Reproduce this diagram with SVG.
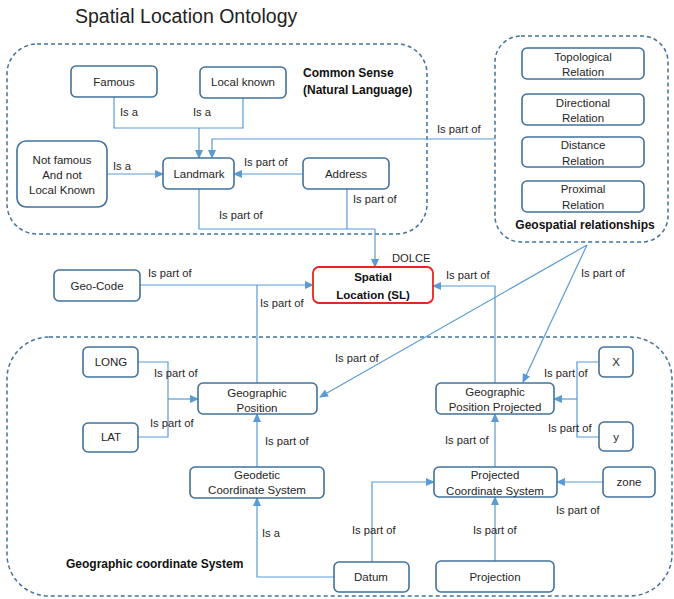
<svg xmlns="http://www.w3.org/2000/svg" width="674" height="599" viewBox="0 0 674 599">
<style>
.bg{fill:#ffffff}
.grp{fill:none;stroke:#41719C;stroke-width:1.5;stroke-dasharray:4 3}
.box{fill:#ffffff;stroke:#41719C;stroke-width:1.6}
.red{fill:#ffffff;stroke:#EE2222;stroke-width:1.8}
.t{font-family:"Liberation Sans",Arial,sans-serif;font-size:11.5px;fill:#262626;text-anchor:middle}
.l{font-family:"Liberation Sans",Arial,sans-serif;font-size:11.2px;fill:#262626}
.b{font-family:"Liberation Sans",Arial,sans-serif;font-size:12px;font-weight:bold;fill:#111}
.title{font-family:"Liberation Sans",Arial,sans-serif;font-size:19.5px;fill:#222}
#connectors path{fill:none;stroke:#5B9BD5;stroke-width:1.2}
.arr{marker-end:url(#ah)}
</style>
<defs>
<marker id="ah" markerUnits="userSpaceOnUse" markerWidth="9" markerHeight="8" refX="8" refY="4" orient="auto">
<path d="M0,0 L9,4 L0,8 Z" fill="#5B9BD5"/>
</marker>
</defs>
<rect class="bg" x="0" y="0" width="674" height="599"/>
<text class="title" x="75" y="23">Spatial Location Ontology</text>

<g id="group-common-sense">
<rect class="grp" x="7" y="44" width="420" height="190" rx="30"/>
<text class="b" x="303" y="77">Common Sense</text>
<text class="b" x="303" y="94">(Natural Language)</text>
</g>
<g id="group-geospatial">
<rect class="grp" x="495" y="36" width="173" height="206" rx="26"/>
<text class="b" x="585" y="229" text-anchor="middle">Geospatial relationships</text>
</g>
<g id="group-geographic">
<rect class="grp" x="7" y="337" width="665" height="259" rx="42"/>
<text class="b" x="66" y="568">Geographic coordinate System</text>
</g>

<g id="connectors">
<path d="M114,97 V128 H243 V98"/>
<path class="arr" d="M199,128 V158"/>
<path class="arr" d="M495,139 H212 V158"/>
<path class="arr" d="M107,174 H163"/>
<path class="arr" d="M303,174 H234"/>
<path d="M199,189 V229 H375"/>
<path d="M347,189 V229"/>
<path class="arr" d="M375,229 V267"/>
<path class="arr" d="M140,285 H313"/>
<path d="M257,383 V285"/>
<path class="arr" d="M495,383 V286 H433"/>
<path class="arr" d="M587,245 L320,397"/>
<path class="arr" d="M587,245 L523,382"/>
<path d="M138,362 H168 V437 H138"/>
<path class="arr" d="M168,399 H198"/>
<path d="M599,362 H577 V437 H599"/>
<path class="arr" d="M577,399 H554"/>
<path class="arr" d="M257,467 V414"/>
<path class="arr" d="M495,467 V414"/>
<path class="arr" d="M334,577 H257 V498"/>
<path class="arr" d="M372,562 V482 H434"/>
<path class="arr" d="M603,482 H557"/>
<path class="arr" d="M495,561 V497"/>
</g>

<g id="labels">
<text class="l" x="120" y="116">Is a</text>
<text class="l" x="193" y="116">Is a</text>
<text class="l" x="437" y="133">Is part of</text>
<text class="l" x="113" y="170">Is a</text>
<text class="l" x="244" y="166">Is part of</text>
<text class="l" x="219" y="219">Is part of</text>
<text class="l" x="353" y="203">Is part of</text>
<text class="l" x="148" y="277">Is part of</text>
<text class="l" x="260" y="307">Is part of</text>
<text class="l" x="446" y="279">Is part of</text>
<text class="l" x="581" y="277">Is part of</text>
<text class="l" x="335" y="362">Is part of</text>
<text class="l" x="154" y="377">Is part of</text>
<text class="l" x="150" y="427">Is part of</text>
<text class="l" x="265" y="445">Is part of</text>
<text class="l" x="262" y="537">Is a</text>
<text class="l" x="352" y="534">Is part of</text>
<text class="l" x="544" y="377">Is part of</text>
<text class="l" x="548" y="432">Is part of</text>
<text class="l" x="445" y="444">Is part of</text>
<text class="l" x="556" y="514">Is part of</text>
<text class="l" x="473" y="534">Is part of</text>
<text class="l" x="392" y="262">DOLCE</text>
</g>

<g id="famous"><rect class="box" x="71" y="66" width="86" height="31" rx="5"/><text class="t" x="114" y="86">Famous</text></g>
<g id="local-known"><rect class="box" x="200" y="67" width="86" height="31" rx="5"/><text class="t" x="243" y="86">Local known</text></g>
<g id="not-famous"><rect class="box" x="17" y="141" width="90" height="66" rx="9"/><text class="t" x="62" y="164">Not famous</text><text class="t" x="62" y="179">And not</text><text class="t" x="62" y="194">Local Known</text></g>
<g id="landmark"><rect class="box" x="163" y="158" width="71" height="31" rx="5"/><text class="t" x="199" y="178">Landmark</text></g>
<g id="address"><rect class="box" x="303" y="158" width="86" height="31" rx="5"/><text class="t" x="346" y="178">Address</text></g>

<g id="topological"><rect class="box" x="522" y="48" width="122" height="31" rx="5"/><text class="t" x="583" y="61">Topological</text><text class="t" x="583" y="76">Relation</text></g>
<g id="directional"><rect class="box" x="522" y="94" width="122" height="31" rx="5"/><text class="t" x="583" y="107">Directional</text><text class="t" x="583" y="122">Relation</text></g>
<g id="distance"><rect class="box" x="522" y="137" width="122" height="30" rx="5"/><text class="t" x="583" y="149">Distance</text><text class="t" x="583" y="165">Relation</text></g>
<g id="proximal"><rect class="box" x="522" y="181" width="122" height="31" rx="5"/><text class="t" x="583" y="193">Proximal</text><text class="t" x="583" y="209">Relation</text></g>

<g id="spatial-location"><rect class="red" x="313" y="267" width="120" height="36" rx="6"/><text class="b" x="373" y="281" text-anchor="middle" style="font-size:11.5px">Spatial</text><text class="b" x="373" y="299" text-anchor="middle" style="font-size:11.5px">Location (SL)</text></g>
<g id="geo-code"><rect class="box" x="54" y="270" width="86" height="31" rx="5"/><text class="t" x="97" y="290">Geo-Code</text></g>

<g id="long"><rect class="box" x="83" y="347" width="55" height="30" rx="5"/><text class="t" x="111" y="366">LONG</text></g>
<g id="lat"><rect class="box" x="83" y="423" width="55" height="29" rx="5"/><text class="t" x="111" y="441">LAT</text></g>
<g id="geographic-position"><rect class="box" x="198" y="383" width="119" height="31" rx="5"/><text class="t" x="257" y="397">Geographic</text><text class="t" x="257" y="412">Position</text></g>
<g id="geodetic"><rect class="box" x="190" y="467" width="134" height="31" rx="5"/><text class="t" x="257" y="479">Geodetic</text><text class="t" x="257" y="494">Coordinate System</text></g>
<g id="datum"><rect class="box" x="334" y="562" width="75" height="30" rx="5"/><text class="t" x="371" y="581">Datum</text></g>
<g id="geographic-position-projected"><rect class="box" x="436" y="383" width="118" height="31" rx="5"/><text class="t" x="495" y="396">Geographic</text><text class="t" x="495" y="411">Position Projected</text></g>
<g id="x"><rect class="box" x="599" y="347" width="34" height="30" rx="5"/><text class="t" x="616" y="366">X</text></g>
<g id="y"><rect class="box" x="599" y="422" width="34" height="29" rx="5"/><text class="t" x="616" y="441">y</text></g>
<g id="projected-cs"><rect class="box" x="434" y="467" width="123" height="30" rx="5"/><text class="t" x="495" y="479">Projected</text><text class="t" x="495" y="495">Coordinate System</text></g>
<g id="zone"><rect class="box" x="603" y="467" width="52" height="30" rx="5"/><text class="t" x="629" y="486">zone</text></g>
<g id="projection"><rect class="box" x="436" y="561" width="118" height="31" rx="5"/><text class="t" x="495" y="581">Projection</text></g>
</svg>
